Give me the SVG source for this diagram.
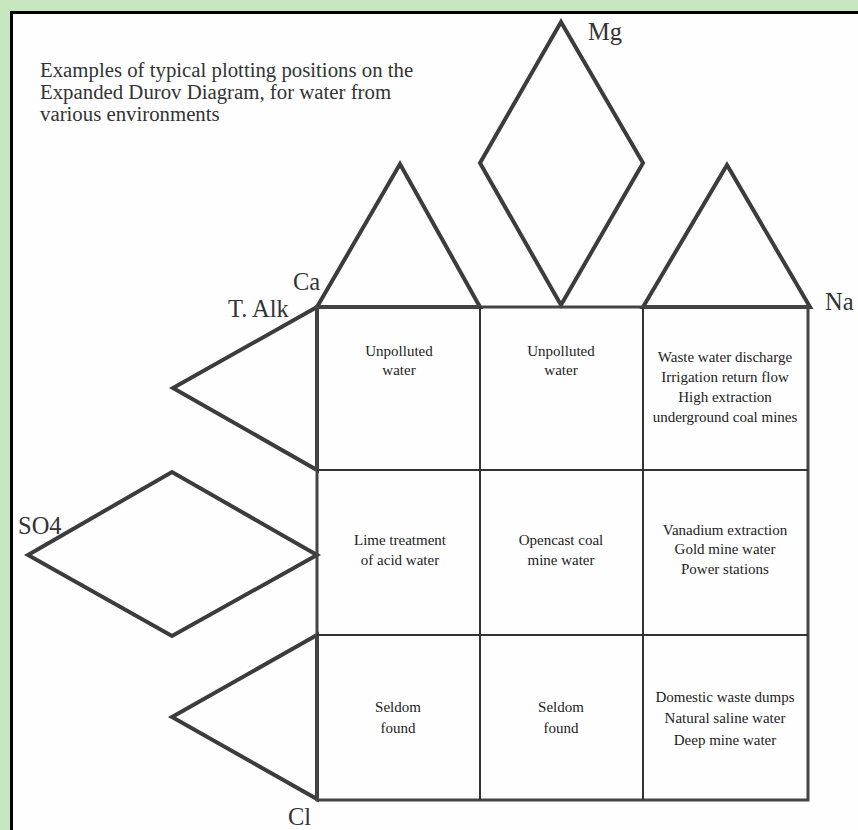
<svg xmlns="http://www.w3.org/2000/svg" width="858" height="830" viewBox="0 0 858 830">
<style>
.shape{fill:none;stroke:#3c3c3c;stroke-width:4;stroke-linejoin:miter}
.grid{fill:none;stroke:#444;stroke-width:3}
.inner{fill:none;stroke:#333;stroke-width:2}
.lbl{font-family:"Liberation Serif",serif;font-size:24.5px;fill:#333}
.title{font-family:"Liberation Serif",serif;font-size:20.8px;fill:#333}
.cell{font-family:"Liberation Serif",serif;font-size:15px;fill:#222;text-anchor:middle}
</style>
<rect x="0" y="0" width="858" height="830" fill="#c8e6c0"/>
<rect x="11.5" y="12.5" width="860" height="830" fill="#fefefe" stroke="#000" stroke-width="3"/>
<g id="title">
<text class="title" x="40" y="77">Examples of typical plotting positions on the</text>
<text class="title" x="40" y="99">Expanded Durov Diagram, for water from</text>
<text class="title" x="40" y="121">various environments</text>
</g>
<g id="ca-triangle"><polygon class="shape" points="317,307 400,164 480,307"/></g>
<g id="mg-diamond"><polygon class="shape" points="561,22 643,163 561,305 480,163"/></g>
<g id="na-triangle"><polygon class="shape" points="643,307 727,165 810,307"/></g>
<g id="talk-triangle"><polygon class="shape" points="317,307 173,388 317,470"/></g>
<g id="so4-diamond"><polygon class="shape" points="28,555 172,472 317,555 172,636"/></g>
<g id="cl-triangle"><polygon class="shape" points="317,635 172,717 317,799"/></g>
<g id="grid">
<rect class="grid" x="317" y="307" width="491" height="493"/>
<line class="inner" x1="480" y1="307" x2="480" y2="800"/>
<line class="inner" x1="643" y1="307" x2="643" y2="800"/>
<line class="inner" x1="317" y1="470" x2="808" y2="470"/>
<line class="inner" x1="317" y1="635" x2="808" y2="635"/>
</g>
<g id="labels">
<text class="lbl" x="293" y="290">Ca</text>
<text class="lbl" x="228" y="317">T. Alk</text>
<text class="lbl" x="588" y="40">Mg</text>
<text class="lbl" x="825" y="310">Na</text>
<text class="lbl" x="18" y="534">SO4</text>
<text class="lbl" x="288" y="825">Cl</text>
</g>
<g id="cell-1-1"><text class="cell" x="399" y="356">Unpolluted</text><text class="cell" x="399" y="375">water</text></g>
<g id="cell-1-2"><text class="cell" x="561" y="356">Unpolluted</text><text class="cell" x="561" y="375">water</text></g>
<g id="cell-1-3"><text class="cell" x="725" y="362">Waste water discharge</text><text class="cell" x="725" y="382">Irrigation return flow</text><text class="cell" x="725" y="402">High extraction</text><text class="cell" x="725" y="422">underground coal mines</text></g>
<g id="cell-2-1"><text class="cell" x="400" y="545">Lime treatment</text><text class="cell" x="400" y="565">of acid water</text></g>
<g id="cell-2-2"><text class="cell" x="561" y="545">Opencast coal</text><text class="cell" x="561" y="565">mine water</text></g>
<g id="cell-2-3"><text class="cell" x="725" y="535">Vanadium extraction</text><text class="cell" x="725" y="554">Gold mine water</text><text class="cell" x="725" y="574">Power stations</text></g>
<g id="cell-3-1"><text class="cell" x="398" y="712">Seldom</text><text class="cell" x="398" y="733">found</text></g>
<g id="cell-3-2"><text class="cell" x="561" y="712">Seldom</text><text class="cell" x="561" y="733">found</text></g>
<g id="cell-3-3"><text class="cell" x="725" y="702">Domestic waste dumps</text><text class="cell" x="725" y="723">Natural saline water</text><text class="cell" x="725" y="745">Deep mine water</text></g>
</svg>
